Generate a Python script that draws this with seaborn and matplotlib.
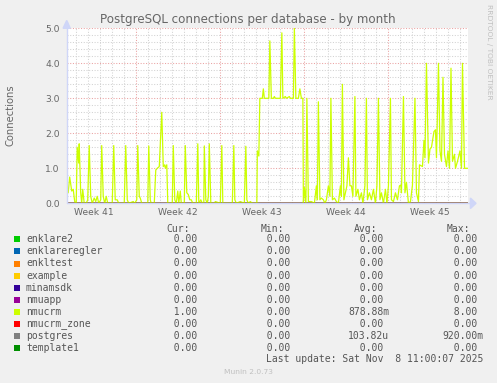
import numpy as np
import pandas as pd
import matplotlib
matplotlib.use("Agg")
import matplotlib.pyplot as plt
from matplotlib.patches import Rectangle, Polygon
import seaborn as sns

# ---------------- data ----------------
# time in hours since the left edge of the window (2 h resolution), values = connections
nmucrm_hours = [0, 3, 6, 10, 13, 16, 19, 21, 24, 25, 28, 30, 32, 35, 39, 42, 45, 48, 51, 55,
                58, 61, 64, 68, 70, 73, 76, 79, 82, 91, 94, 97, 101, 104, 115, 118, 121, 124, 133, 136,
                140, 142, 145, 147, 150, 162, 164, 167, 169, 175, 178, 181, 185, 190, 193, 196, 197, 200, 202, 211,
                213, 216, 219, 222, 224, 227, 229, 235, 237, 240, 243, 246, 249, 252, 259, 262, 264, 268, 271, 274,
                275, 278, 281, 283, 285, 288, 295, 297, 307, 310, 312, 331, 334, 336, 339, 347, 355, 358, 360, 363,
                367, 371, 380, 381, 384, 386, 391, 393, 395, 404, 406, 409, 413, 415, 417, 427, 430, 432, 437, 439,
                445, 447, 453, 455, 458, 463, 466, 469, 472, 473, 475, 478, 480, 483, 489, 495, 499, 501, 503, 506,
                509, 513, 516, 519, 523, 526, 528, 531, 535, 539, 543, 547, 549, 551, 554, 557, 560, 563, 566, 569,
                572, 576, 578, 582, 585, 589, 592, 596, 599, 601, 605, 609, 613, 617, 620, 623, 626, 629, 633, 637,
                640, 643, 647, 649, 653, 657, 661, 665, 668, 669, 673, 676, 679, 683, 687, 691, 696, 699, 703, 705,
                711, 714, 716, 719, 723, 726, 729, 734, 737, 739, 743, 746, 749, 752, 755, 759, 762, 765, 768, 771,
                775, 777, 781, 786, 789, 791, 795, 802]
nmucrm_values = [0.5, 0.3, 0.75, 0.35, 0.4, 0.05, 0.0, 1.6, 1.15, 1.7, 0.3, 0.0, 0.4, 0.0, 0.0, 0.1, 1.65, 0.2, 0.0, 0.15,
                 0.05, 0.2, 0.0, 0.1, 1.65, 0.2, 0.0, 0.2, 0.0, 0.0, 1.65, 0.1, 0.1, 0.0, 0.0, 1.65, 0.1, 0.0, 0.05, 0.0,
                 0.1, 1.65, 0.2, 0.15, 0.0, 0.0, 1.64, 0.1, 0.0, 0.0, 0.95, 1.0, 1.05, 2.6, 1.05, 1.1, 1.0, 1.1, 0.0, 0.0,
                 1.65, 0.1, 0.0, 0.35, 0.0, 0.35, 0.0, 0.0, 1.65, 0.3, 0.25, 0.1, 0.1, 0.0, 0.0, 1.7, 0.0, 0.1, 0.0, 0.0,
                 1.64, 0.1, 0.0, 0.2, 1.7, 0.0, 0.0, 0.05, 0.0, 1.65, 0.0, 0.0, 1.65, 0.1, 0.0, 0.05, 0.0, 1.63, 0.1, 0.0,
                 0.05, 0.0, 0.0, 1.5, 1.35, 3.0, 3.0, 3.27, 3.0, 3.0, 4.64, 3.0, 3.0, 3.05, 3.0, 3.0, 4.87, 3.0, 3.05, 3.0,
                 3.05, 3.0, 3.0, 5.0, 3.0, 3.0, 3.27, 3.0, 3.0, 0.0, 0.45, 0.0, 3.0, 0.05, 0.05, 0.0, 0.5, 0.1, 2.9, 0.1,
                 0.15, 0.1, 0.0, 0.1, 0.5, 0.2, 3.0, 0.1, 0.15, 0.05, 0.0, 0.5, 0.2, 3.4, 0.1, 0.3, 0.5, 1.3, 0.5, 0.5,
                 0.2, 3.05, 0.2, 0.4, 0.1, 0.3, 0.0, 0.5, 3.0, 0.1, 0.3, 0.1, 0.4, 0.0, 0.5, 3.0, 0.1, 0.3, 0.0, 0.4,
                 0.0, 0.5, 3.0, 0.1, 0.05, 0.3, 0.1, 0.5, 0.52, 0.3, 3.05, 0.3, 0.6, 0.0, 0.05, 0.52, 3.0, 0.3, 0.05, 1.1,
                 1.05, 1.8, 1.3, 4.0, 1.15, 1.55, 1.6, 2.05, 2.1, 1.3, 4.0, 1.5, 1.2, 3.6, 1.4, 1.05, 1.5, 1.0, 3.86, 1.2,
                 1.4, 1.0, 1.2, 1.5, 1.0, 4.0, 1.0, 1.0]

zero_hours = [0, 802]
zero_values = [0.0, 0.0]

series_names = ["enklare2", "enklareregler", "enkltest", "example", "minamsdk",
                "nmuapp", "nmucrm", "nmucrm_zone", "postgres", "template1"]
series_colors = ["#00CC00", "#0066B3", "#FF8000", "#FFCC00", "#330099",
                 "#990099", "#CCFF00", "#FF0000", "#808080", "#008F00"]
cur_vals = ["0.00", "0.00", "0.00", "0.00", "0.00", "0.00", "1.00", "0.00", "0.00", "0.00"]
min_vals = ["0.00", "0.00", "0.00", "0.00", "0.00", "0.00", "0.00", "0.00", "0.00", "0.00"]
avg_vals = ["0.00", "0.00", "0.00", "0.00", "0.00", "0.00", "878.88m", "0.00", "103.82u", "0.00"]
max_vals = ["0.00", "0.00", "0.00", "0.00", "0.00", "0.00", "8.00", "0.00", "920.00m", "0.00"]

week_labels = ["Week 41", "Week 42", "Week 43", "Week 44", "Week 45"]
week_label_hours = [54, 222, 390, 558, 726]
week_boundary_hours = [138, 306, 474, 642]
y_ticks = [0.0, 1.0, 2.0, 3.0, 4.0, 5.0]

# ---------------- build long table ----------------
rows = []
for name in series_names:
    if name == "nmucrm":
        hs, vs = nmucrm_hours, nmucrm_values
    else:
        hs, vs = zero_hours, zero_values
    for h, v in zip(hs, vs):
        rows.append({"series": name, "day": h / 24.0, "value": v})
df = pd.DataFrame(rows)

# ---------------- figure ----------------
W, H = 497, 383
sns.set_style("white")
plt.rcParams["font.family"] = ["DejaVu Sans"]
fig = plt.figure(figsize=(W / 100, H / 100), dpi=100, facecolor="#F0F0F0")

def fx(px):
    return px / W

def fy(py):
    return 1 - py / H

x0, x1, ytop, ybot = 66.7, 468.0, 28.3, 203.3
ax = fig.add_axes([fx(x0), fy(ybot), fx(x1) - fx(x0), fy(ytop) - fy(ybot)])
ax.set_facecolor("white")

tmax = 802 / 24.0
ax.set_xlim(0, tmax)
ax.set_ylim(0, 5.0)

# grid
minor_col = "#d2d2d2"
major_col = "#eaa2a2"
for d in np.arange(0.75, tmax, 1.0):
    if not any(abs(d - b / 24.0) < 1e-6 for b in week_boundary_hours):
        ax.axvline(d, color=minor_col, lw=0.75, ls=(0, (1, 1.6)), zorder=0)
for yv in np.arange(0.2, 5.0, 0.2):
    if abs(yv - round(yv)) > 1e-6:
        ax.axhline(yv, color=minor_col, lw=0.75, ls=(0, (1, 1.6)), zorder=0)
for b in week_boundary_hours:
    ax.axvline(b / 24.0, color=major_col, lw=0.75, ls=(0, (1, 1.6)), zorder=0.5)
for yv in y_ticks[1:]:
    ax.axhline(yv, color=major_col, lw=0.75, ls=(0, (1, 1.6)), zorder=0.5)

n_before = len(ax.lines)
palette = dict(zip(series_names, series_colors))
sns.lineplot(data=df, x="day", y="value", hue="series", hue_order=series_names,
             palette=palette, estimator=None, sort=False, legend=False,
             lw=0.9, ax=ax, zorder=3)
data_lines = ax.lines[n_before:]
# the last drawn zero series (template1) sits on top of the gray postgres line
data_lines[-1].set_alpha(0.45)
data_lines[-1].set_linewidth(1.0)

# axes styling
for s in ax.spines.values():
    s.set_visible(False)
axis_col = "#CFD6F8"
ax.plot([0, 0], [0, 1.035], transform=ax.transAxes, color=axis_col, lw=1.0, clip_on=False, zorder=4)
ax.plot([0, 1.012], [0, 0], transform=ax.transAxes, color=axis_col, lw=1.0, clip_on=False, zorder=2)
ax.add_patch(Polygon([[-0.009, 1.0], [0.009, 1.0], [0, 1.045]], closed=True, transform=ax.transAxes,
                     color=axis_col, clip_on=False, zorder=4))
ax.add_patch(Polygon([[1.006, -0.03], [1.006, 0.03], [1.02, 0]], closed=True, transform=ax.transAxes,
                     color=axis_col, clip_on=False, zorder=4))

txt_col = "#666666"
ax.set_yticks(y_ticks)
ax.set_yticklabels([f"{v:.1f}" for v in y_ticks])
ax.set_xticks([h / 24.0 for h in week_label_hours])
ax.set_xticklabels(week_labels)
ax.tick_params(axis="y", length=0, pad=5, labelsize=6.6, labelcolor=txt_col)
ax.tick_params(axis="x", length=0, pad=3.5, labelsize=6.6, labelcolor=txt_col)
ax.set_xlabel("")
ax.set_ylabel("")

# titles
fig.text(fx(248), fy(19.5), "PostgreSQL connections per database - by month",
         ha="center", va="center", fontsize=8.6, color=txt_col)
fig.text(fx(10.5), fy(115), "Connections", rotation=90, ha="center", va="center",
         fontsize=7.2, color=txt_col)
fig.text(fx(488.5), fy(4), "RRDTOOL / TOBI OETIKER", rotation=270, ha="center", va="top",
         fontsize=5.4, color="#c0c0c0")

# legend table
mono = "DejaVu Sans Mono"
fs = 7.0
leg_col = "#555555"
header_y = 229.0
fig.text(fx(166.7), fy(header_y), "Cur:", ha="left", va="center", family=mono, fontsize=fs, color=leg_col)
fig.text(fx(260.5), fy(header_y), "Min:", ha="left", va="center", family=mono, fontsize=fs, color=leg_col)
fig.text(fx(353.5), fy(header_y), "Avg:", ha="left", va="center", family=mono, fontsize=fs, color=leg_col)
fig.text(fx(447.0), fy(header_y), "Max:", ha="left", va="center", family=mono, fontsize=fs, color=leg_col)

def field(v):
    if v[-1].isalpha():
        return f"{v:>7}"
    return f"{v:>6} "

col_starts = [161.5, 255.0, 348.3, 442.0]
row0, dy = 239.4, 12.05
for i, name in enumerate(series_names):
    yy = row0 + i * dy
    fig.patches.append(Rectangle((fx(14), fy(yy + 3)), fx(6), 6 / H, transform=fig.transFigure,
                                 facecolor=series_colors[i], edgecolor="none"))
    fig.text(fx(26), fy(yy), name, ha="left", va="center", family=mono, fontsize=fs, color=leg_col)
    for cs, vals in zip(col_starts, [cur_vals, min_vals, avg_vals, max_vals]):
        fig.text(fx(cs), fy(yy), field(vals[i]), ha="left", va="center", family=mono,
                 fontsize=fs, color=leg_col)

fig.text(fx(483), fy(359.5), "Last update: Sat Nov  8 11:00:07 2025", ha="right", va="center",
         family=mono, fontsize=fs, color=leg_col)
fig.text(fx(248), fy(372.5), "Munin 2.0.73", ha="center", va="center", fontsize=5.4, color="#c0c0c0")

fig.savefig("out.png", dpi=100, facecolor=fig.get_facecolor())
